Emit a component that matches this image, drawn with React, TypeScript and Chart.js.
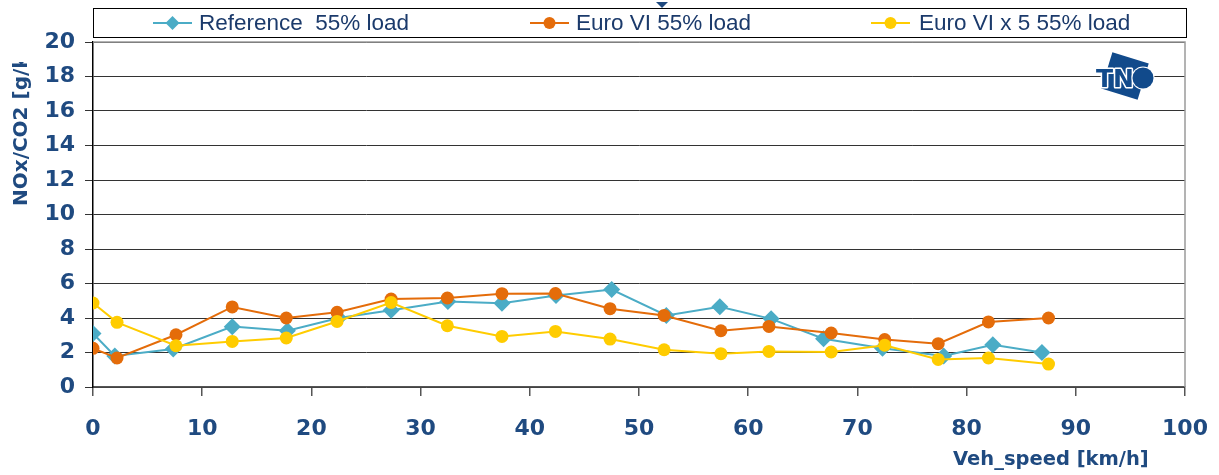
import React, { useEffect, useRef } from "react";
import { Chart, registerables } from "chart.js";

Chart.register(...registerables);

const refSpeed = [0, 2.0, 7.35, 12.75, 17.8, 22.5, 27.3, 32.5, 37.45, 42.4, 47.5, 52.5, 57.4, 62.1, 66.9, 72.3, 77.9, 82.4, 86.9];
const refValues = [3.1, 1.8, 2.2, 3.5, 3.26, 4.0, 4.45, 4.95, 4.85, 5.3, 5.65, 4.15, 4.65, 3.95, 2.8, 2.25, 1.8, 2.45, 2.0];

const euroSpeed = [0, 2.2, 7.6, 12.75, 17.7, 22.35, 27.3, 32.45, 37.45, 42.35, 47.35, 52.3, 57.5, 61.9, 67.6, 72.5, 77.4, 82.0, 87.5];
const euroValues = [2.24, 1.68, 3.03, 4.64, 4.0, 4.33, 5.1, 5.16, 5.41, 5.42, 4.54, 4.15, 3.26, 3.51, 3.13, 2.75, 2.51, 3.77, 4.0];
const euro5Values = [4.87, 3.75, 2.39, 2.64, 2.84, 3.8, 4.9, 3.55, 2.93, 3.22, 2.78, 2.16, 1.93, 2.06, 2.03, 2.42, 1.6, 1.68, 1.33];

const seriesNames = ["Reference  55% load", "Euro VI 55% load", "Euro VI x 5 55% load"];
const seriesColors = ["#4BACC6", "#E46C0A", "#FFCC00"];

const yTitle = "NOx/CO2 [g/kg]";
const xTitle = "Veh_speed [km/h]";

const TEXT_BLUE = "#1F4A80";
const FONT = "'Liberation Sans', Arial, sans-serif";
const BOLD_FONT = "'DejaVu Sans', 'Liberation Sans', sans-serif";

const pairs = (xs: number[], ys: number[]) => xs.map((x, i) => ({ x, y: ys[i] }));

const decorPlugin = {
  id: "decor",
  afterDraw(chart: any) {
    const ctx = chart.ctx as CanvasRenderingContext2D;
    const ca = chart.chartArea;
    ctx.save();

    // plot frame (top & right grey borders)
    ctx.strokeStyle = "#9a9a9a";
    ctx.lineWidth = 1.5;
    ctx.beginPath();
    ctx.moveTo(ca.left, ca.top);
    ctx.lineTo(ca.right, ca.top);
    ctx.lineTo(ca.right, ca.bottom);
    ctx.stroke();

    // legend box
    ctx.strokeStyle = "#000";
    ctx.lineWidth = 1;
    ctx.strokeRect(93.5, 8.5, 1093, 29);

    const items = [
      { lx: 153, tx: 199 },
      { lx: 530, tx: 576 },
      { lx: 871, tx: 919 },
    ];
    items.forEach((it, i) => {
      const y = 23;
      const c = seriesColors[i];
      ctx.strokeStyle = c;
      ctx.lineWidth = 2;
      ctx.beginPath();
      ctx.moveTo(it.lx, y);
      ctx.lineTo(it.lx + 39, y);
      ctx.stroke();
      ctx.fillStyle = c;
      const cx = it.lx + 19.5;
      ctx.beginPath();
      if (i === 0) {
        const r = 7;
        ctx.moveTo(cx, y - r);
        ctx.lineTo(cx + r, y);
        ctx.lineTo(cx, y + r);
        ctx.lineTo(cx - r, y);
        ctx.closePath();
      } else {
        ctx.arc(cx, y, 6, 0, Math.PI * 2);
      }
      ctx.fill();
      ctx.fillStyle = "#1B3A6B";
      ctx.font = `22.5px ${FONT}`;
      ctx.textBaseline = "middle";
      ctx.textAlign = "left";
      ctx.fillText(seriesNames[i], it.tx, y + 1);
    });

    // small title marker triangle
    ctx.fillStyle = TEXT_BLUE;
    ctx.beginPath();
    ctx.moveTo(656, 2);
    ctx.lineTo(668, 2);
    ctx.lineTo(662, 8);
    ctx.closePath();
    ctx.fill();

    // Y title (clipped at top)
    ctx.save();
    ctx.beginPath();
    ctx.rect(0, 62, 60, 300);
    ctx.clip();
    ctx.translate(22, 206);
    ctx.rotate(-Math.PI / 2);
    ctx.fillStyle = TEXT_BLUE;
    ctx.font = `bold 20px ${BOLD_FONT}`;
    ctx.textAlign = "left";
    ctx.textBaseline = "middle";
    ctx.fillText(yTitle, 0, 0);
    ctx.restore();

    // X title
    ctx.fillStyle = TEXT_BLUE;
    ctx.font = `bold 19.5px ${BOLD_FONT}`;
    ctx.textAlign = "left";
    ctx.textBaseline = "middle";
    ctx.fillText(xTitle, 953, 460);

    // TNO logo
    const logoBlue = "#114A8B";
    ctx.save();
    ctx.translate(1125, 76);
    ctx.rotate((17 * Math.PI) / 180);
    ctx.fillStyle = logoBlue;
    ctx.fillRect(-19, -19, 38, 38);
    ctx.restore();
    ctx.save();
    ctx.font = `bold 25px ${BOLD_FONT}`;
    ctx.textAlign = "left";
    ctx.textBaseline = "middle";
    ctx.lineWidth = 3;
    ctx.lineJoin = "round";
    ctx.strokeStyle = "#fff";
    ctx.fillStyle = logoBlue;
    ctx.strokeText("TN", 1096, 80);
    ctx.fillText("TN", 1096, 80);
    ctx.beginPath();
    ctx.arc(1143, 78, 10.5, 0, Math.PI * 2);
    ctx.lineWidth = 2;
    ctx.stroke();
    ctx.fill();
    ctx.restore();

    ctx.restore();
  },
};

export default function App() {
  const canvasRef = useRef<HTMLCanvasElement | null>(null);

  useEffect(() => {
    if (!canvasRef.current) return;
    const chart = new Chart(canvasRef.current, {
      type: "line",
      data: {
        datasets: [
          {
            label: seriesNames[0],
            data: pairs(refSpeed, refValues),
            borderColor: seriesColors[0],
            backgroundColor: seriesColors[0],
            pointStyle: "rectRot",
            pointRadius: 8.5,
            borderWidth: 2,
            pointBorderWidth: 0,
            order: 3,
          },
          {
            label: seriesNames[1],
            data: pairs(euroSpeed, euroValues),
            borderColor: seriesColors[1],
            backgroundColor: seriesColors[1],
            pointStyle: "circle",
            pointRadius: 6.5,
            borderWidth: 2,
            pointBorderWidth: 0,
            order: 2,
          },
          {
            label: seriesNames[2],
            data: pairs(euroSpeed, euro5Values),
            borderColor: seriesColors[2],
            backgroundColor: seriesColors[2],
            pointStyle: "circle",
            pointRadius: 6.5,
            borderWidth: 2,
            pointBorderWidth: 0,
            order: 1,
          },
        ],
      },
      options: {
        responsive: false,
        animation: false,
        layout: { padding: { left: 0, top: 42, right: 34, bottom: 0 } },
        plugins: { legend: { display: false }, title: { display: false }, tooltip: { enabled: false } },
        scales: {
          x: {
            type: "linear",
            min: 0,
            max: 100,
            ticks: {
              stepSize: 10,
              color: TEXT_BLUE,
              font: { family: BOLD_FONT, size: 22, weight: "bold" },
              padding: 20,
              maxRotation: 0,
            },
            grid: { drawOnChartArea: false, tickLength: 9, tickColor: "#555", lineWidth: 1.5 },
            border: { display: true, color: "#555", width: 1.5 },
            afterFit(scale: any) {
              scale.height = 88;
              scale.paddingLeft = 0;
              scale.paddingRight = 0;
            },
          },
          y: {
            min: 0,
            max: 20,
            ticks: {
              stepSize: 2,
              color: TEXT_BLUE,
              font: { family: BOLD_FONT, size: 22, weight: "bold" },
              padding: 10,
            },
            grid: { color: "#333", lineWidth: 1, tickLength: 8, tickColor: "#333" },
            border: { display: true, color: "#000", width: 1.5 },
            afterFit(scale: any) {
              scale.width = 93;
              scale.paddingTop = 0;
              scale.paddingBottom = 0;
            },
          },
        },
      },
      plugins: [decorPlugin],
    });
    return () => chart.destroy();
  }, []);

  return (
    <div style={{ position: "fixed", left: 0, top: 0, width: 1219, height: 475, background: "#fff" }}>
      <canvas ref={canvasRef} width={1219} height={475} />
    </div>
  );
}
